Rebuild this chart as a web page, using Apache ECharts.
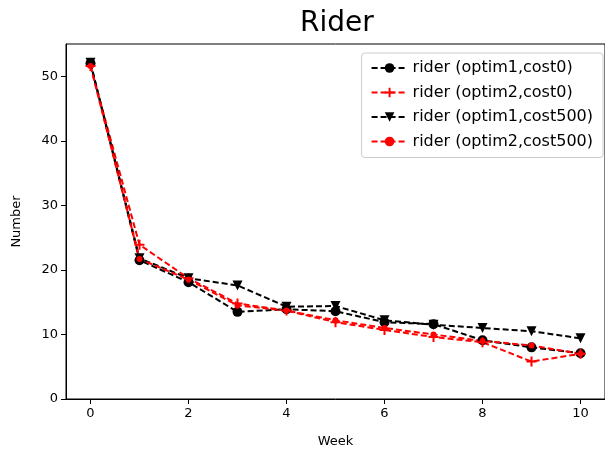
<!DOCTYPE html>
<html>
<head>
<meta charset="utf-8">
<script src="https://cdn.jsdelivr.net/npm/echarts@6/dist/echarts.min.js"></script>
<style>
  html, body { margin: 0; padding: 0; background: #fff; }
  #chart { width: 605px; height: 453px; }
</style>
</head>
<body>
<div id="chart"></div>
<script>
const weeks = [0, 1, 2, 3, 4, 5, 6, 7, 8, 9, 10];
const xTicks = [0, 2, 4, 6, 8, 10];
const yTicks = [0, 10, 20, 30, 40, 50];

const optim1Cost0 = [52.0, 21.5, 18.1, 13.5, 13.9, 13.6, 11.9, 11.6, 9.1, 8.0, 7.1];
const optim2Cost0 = [51.6, 23.9, 18.7, 14.8, 13.7, 11.9, 10.7, 9.6, 8.8, 5.8, 7.0];
const optim1Cost500 = [52.1, 21.8, 18.7, 17.6, 14.3, 14.4, 12.2, 11.5, 11.0, 10.5, 9.4];
const optim2Cost500 = [51.6, 21.7, 18.5, 14.5, 13.7, 12.2, 11.0, 10.0, 9.0, 8.3, 7.0];

const plusPath = 'path://M4,0 L6,0 L6,4 L10,4 L10,6 L6,6 L6,10 L4,10 L4,6 L0,6 L0,4 L4,4 Z';
const font = 'DejaVu Sans';

function pairs(vals) {
    return weeks.map((w, i) => [w, vals[i]]);
}

function makeSeries(name, vals, color, symbol, size, rotate) {
    return {
        name: name,
        type: 'line',
        data: pairs(vals),
        symbol: symbol,
        symbolSize: size,
        symbolRotate: rotate || 0,
        lineStyle: { color: color, width: 2, type: [6, 3] },
        itemStyle: { color: color },
        animation: false
    };
}

const chart = echarts.init(document.getElementById('chart'));
chart.setOption({
    backgroundColor: '#ffffff',
    title: {
        text: 'Rider',
        left: 295,
        top: 5,
        textStyle: { fontFamily: font, fontSize: 28, fontWeight: 'normal', color: '#000' }
    },
    legend: {
        orient: 'vertical',
        right: 2,
        top: 53,
        itemWidth: 36,
        itemHeight: 12,
        itemGap: 8.5,
        padding: [7, 10, 8, 9],
        backgroundColor: 'rgba(255,255,255,0.8)',
        borderColor: '#cccccc',
        borderWidth: 1,
        borderRadius: 3,
        textStyle: { fontFamily: font, fontSize: 16, color: '#000' },
        data: ['rider (optim1,cost0)', 'rider (optim2,cost0)', 'rider (optim1,cost500)', 'rider (optim2,cost500)']
    },
    grid: {
        left: 66,
        right: -4,
        top: 44,
        bottom: 54,
        show: true,
        borderColor: '#000',
        borderWidth: 1
    },
    xAxis: {
        type: 'value',
        min: -0.5,
        max: 10.5,
        name: 'Week',
        nameLocation: 'middle',
        nameGap: 36,
        nameTextStyle: { fontFamily: font, fontSize: 13, color: '#000' },
        axisLine: { show: true, onZero: false, lineStyle: { color: '#000' } },
        axisTick: { show: true, length: 5, customValues: xTicks, lineStyle: { color: '#000' } },
        axisLabel: { customValues: xTicks, fontFamily: font, fontSize: 13, color: '#000', margin: 8 },
        splitLine: { show: false }
    },
    yAxis: {
        type: 'value',
        min: 0,
        max: 55,
        name: 'Number',
        nameLocation: 'middle',
        nameGap: 43,
        nameTextStyle: { fontFamily: font, fontSize: 13, color: '#000' },
        axisLine: { show: true, onZero: false, lineStyle: { color: '#000' } },
        axisTick: { show: true, length: 5, customValues: yTicks, lineStyle: { color: '#000' } },
        axisLabel: { customValues: yTicks, fontFamily: font, fontSize: 13, color: '#000', margin: 8 },
        splitLine: { show: false }
    },
    series: [
        makeSeries('rider (optim1,cost0)', optim1Cost0, '#000000', 'circle', 10),
        makeSeries('rider (optim2,cost0)', optim2Cost0, '#ff0000', plusPath, 10),
        makeSeries('rider (optim1,cost500)', optim1Cost500, '#000000', 'triangle', 10, 180),
        makeSeries('rider (optim2,cost500)', optim2Cost500, '#ff0000', 'circle', 6)
    ]
});
</script>
</body>
</html>
